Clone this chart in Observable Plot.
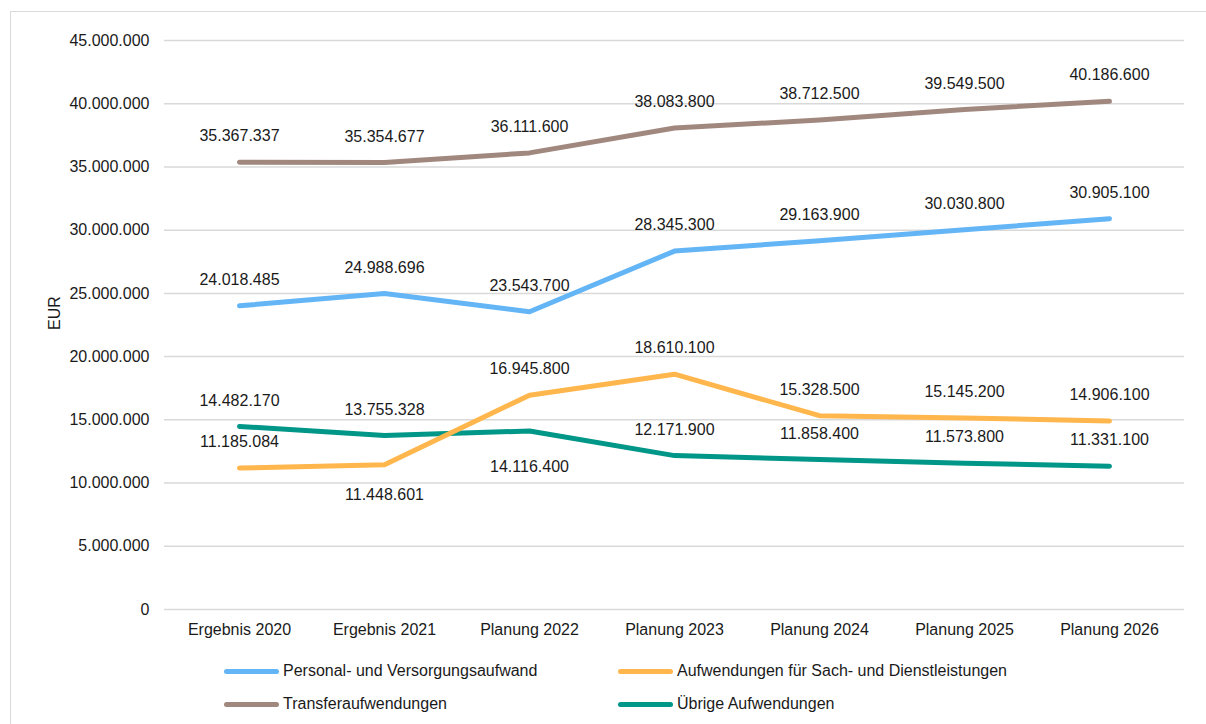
<!DOCTYPE html>
<html>
<head>
<meta charset="utf-8">
<script src="https://cdn.jsdelivr.net/npm/d3@7"></script>
<script src="https://cdn.jsdelivr.net/npm/@observablehq/plot@0.6"></script>
<style>
  html, body { margin: 0; padding: 0; background: #fff; }
  #wrap { position: relative; width: 1206px; height: 724px; overflow: hidden; font-family: "Liberation Sans", Arial, sans-serif; color: #1a1a1a; }
  #frame { position: absolute; left: 10px; top: 11px; width: 1300px; height: 800px; border-left: 1.5px solid #d9d9d9; border-top: 1.5px solid #d9d9d9; }
  #chart { position: absolute; left: 0; top: 0; }
  .leg { position: absolute; display: flex; align-items: center; font-size: 16px; white-space: nowrap; }
  .leg .sw { width: 55px; height: 5px; border-radius: 3px; margin-right: 4px; }
</style>
</head>
<body>
<div id="wrap">
  <div id="frame"></div>
  <div id="chart"></div>
  <div id="legend"></div>
</div>
<script>
// ---- data ----
const categories = ["Ergebnis 2020", "Ergebnis 2021", "Planung 2022", "Planung 2023", "Planung 2024", "Planung 2025", "Planung 2026"];
const seriesNames = ["Personal- und Versorgungsaufwand", "Aufwendungen für Sach- und Dienstleistungen", "Transferaufwendungen", "Übrige Aufwendungen"];
const personal = [24018485, 24988696, 23543700, 28345300, 29163900, 30030800, 30905100];
const sach = [11185084, 11448601, 16945800, 18610100, 15328500, 15145200, 14906100];
const transfer = [35367337, 35354677, 36111600, 38083800, 38712500, 39549500, 40186600];
const uebrige = [14482170, 13755328, 14116400, 12171900, 11858400, 11573800, 11331100];
const yTicks = [0, 5000000, 10000000, 15000000, 20000000, 25000000, 30000000, 35000000, 40000000, 45000000];
const seriesColors = ["#64B5F6", "#FFB74D", "#A1887F", "#009688"];

// ---- build tidy table ----
const seriesValues = [personal, sach, transfer, uebrige];
const rows = [];
seriesNames.forEach((s, i) => categories.forEach((c, j) => rows.push({series: s, cat: c, value: seriesValues[i][j]})));

const de = d3.formatLocale({decimal: ",", thousands: ".", grouping: [3], currency: ["", " €"]});
const fmt = de.format(",d");

// label placement (style, not data)
const belowOffsets = new Map([
  ["Aufwendungen für Sach- und Dienstleistungen|Ergebnis 2021", 30],
  ["Übrige Aufwendungen|Planung 2022", 36]
]);
const key = d => d.series + "|" + d.cat;
const aboveRows = rows.filter(d => !belowOffsets.has(key(d)));
const belowMarks = rows.filter(d => belowOffsets.has(key(d))).map(d =>
  Plot.text([d], {x: "cat", y: "value", text: r => fmt(r.value), dy: belowOffsets.get(key(d)), fill: "#1a1a1a"})
);

// draw order: Übrige first (orange drawn over teal)
const drawOrder = ["Übrige Aufwendungen", "Transferaufwendungen", "Personal- und Versorgungsaufwand", "Aufwendungen für Sach- und Dienstleistungen"];

const chart = Plot.plot({
  width: 1206,
  height: 645,
  marginTop: 40,
  marginBottom: 36,
  marginLeft: 164,
  marginRight: 22,
  style: {fontFamily: "'Liberation Sans', Arial, sans-serif", fontSize: "16px", color: "#1a1a1a", background: "transparent", overflow: "visible"},
  x: {type: "point", domain: categories, padding: 0.5},
  y: {domain: [0, 45000000]},
  color: {domain: seriesNames, range: seriesColors},
  marks: [
    Plot.gridY(yTicks, {stroke: "#d9d9d9", strokeOpacity: 1, strokeWidth: 1.5}),
    Plot.axisY(yTicks, {tickSize: 0, tickPadding: 15, tickFormat: fmt, label: null, fontSize: 16}),
    Plot.axisX({tickSize: 0, tickPadding: 14, label: null, fontSize: 16}),
    Plot.text(["EUR"], {frameAnchor: "left", dx: -110, dy: 5, rotate: -90, fontSize: 16, fill: "#1a1a1a"}),
    ...drawOrder.map(s => Plot.line(rows.filter(d => d.series === s), {
      x: "cat", y: "value", stroke: "series", strokeWidth: 5, strokeLinecap: "round", strokeLinejoin: "round"
    })),
    Plot.text(aboveRows, {x: "cat", y: "value", text: d => fmt(d.value), dy: -26, fill: "#1a1a1a"}),
    ...belowMarks
  ]
});
document.getElementById("chart").appendChild(chart);

// ---- legend ----
const legendPos = [
  {left: 224, top: 671},
  {left: 618, top: 671},
  {left: 224, top: 704},
  {left: 618, top: 704}
];
const legend = document.getElementById("legend");
seriesNames.forEach((s, i) => {
  const el = document.createElement("div");
  el.className = "leg";
  el.style.left = legendPos[i].left + "px";
  el.style.top = (legendPos[i].top - 10) + "px";
  el.style.height = "20px";
  const sw = document.createElement("div");
  sw.className = "sw";
  sw.style.background = seriesColors[i];
  const tx = document.createElement("span");
  tx.textContent = s;
  el.appendChild(sw);
  el.appendChild(tx);
  legend.appendChild(el);
});
</script>
</body>
</html>
